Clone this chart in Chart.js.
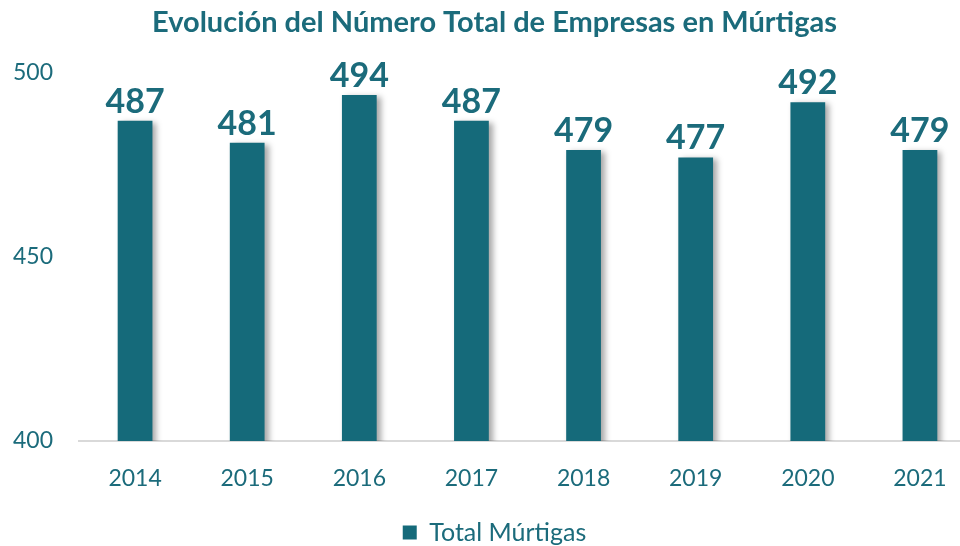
<!DOCTYPE html>
<html>
<head>
<meta charset="utf-8">
<script src="https://cdn.jsdelivr.net/npm/chart.js@4"></script>
<style>
  html, body { margin: 0; padding: 0; background: #fff; overflow: hidden; }
  #wrap { width: 976px; height: 546px; }
</style>
</head>
<body>
<div id="wrap"><canvas id="myChart"></canvas></div>
<script>
const years = ["2014", "2015", "2016", "2017", "2018", "2019", "2020", "2021"];
const empresas = [487, 481, 494, 487, 479, 477, 492, 479];
const yTicks = [400, 450, 500];

const teal = "#156a7a";
const textTeal = "#1b6b7b";

// sombra de las barras
const barShadow = {
    id: "barShadow",
    beforeDatasetDraw(chart) {
        const c = chart.ctx;
        c.save();
        c.shadowColor = "rgba(0,0,0,0.35)";
        c.shadowBlur = 6;
        c.shadowOffsetX = 4;
        c.shadowOffsetY = 2;
    },
    afterDatasetDraw(chart) {
        chart.ctx.restore();
    }
};

// etiquetas de valor encima de cada barra
const valueLabels = {
    id: "valueLabels",
    afterDatasetsDraw(chart) {
        const c = chart.ctx;
        const meta = chart.getDatasetMeta(0);
        c.save();
        c.font = "bold 34px Lato";
        c.fillStyle = textTeal;
        c.textAlign = "center";
        c.textBaseline = "bottom";
        meta.data.forEach((bar, i) => {
            c.fillText(chart.data.datasets[0].data[i], bar.x, bar.y - 2);
        });
        c.restore();
    }
};

const ctx = document.getElementById("myChart").getContext("2d");
new Chart(ctx, {
    type: "bar",
    data: {
        labels: years,
        datasets: [{
            label: "Total Múrtigas",
            data: empresas,
            backgroundColor: teal,
            borderWidth: 0,
            categoryPercentage: 1,
            barPercentage: 0.31
        }]
    },
    options: {
        responsive: true,
        maintainAspectRatio: false,
        animation: false,
        layout: { padding: { left: 13, right: 0, top: 0, bottom: -9 } },
        plugins: {
            title: {
                display: true,
                text: "Evolución del Número Total de Empresas en Múrtigas",
                color: textTeal,
                font: { family: "Lato", size: 29, weight: "bold" },
                padding: { top: 5, bottom: 33 }
            },
            legend: {
                position: "bottom",
                labels: {
                    color: textTeal,
                    font: { family: "Lato", size: 25 },
                    boxWidth: 14,
                    boxHeight: 14,
                    padding: 1
                }
            },
            tooltip: { enabled: false }
        },
        scales: {
            x: {
                afterFit(scale) { scale.height = 78; },
                grid: { display: false, drawTicks: false },
                border: { color: "#d9d9d9", width: 2 },
                ticks: {
                    color: textTeal,
                    font: { family: "Lato", size: 23 },
                    padding: 24
                }
            },
            y: {
                min: 400,
                max: 500,
                afterBuildTicks(scale) {
                    scale.ticks = yTicks.map(v => ({ value: v }));
                },
                afterFit(scale) { scale.width = 66; },
                grid: { display: false, drawTicks: false },
                border: { display: false },
                ticks: {
                    color: textTeal,
                    font: { family: "Lato", size: 23 },
                    padding: 26
                }
            }
        }
    },
    plugins: [barShadow, valueLabels]
});
</script>
</body>
</html>
